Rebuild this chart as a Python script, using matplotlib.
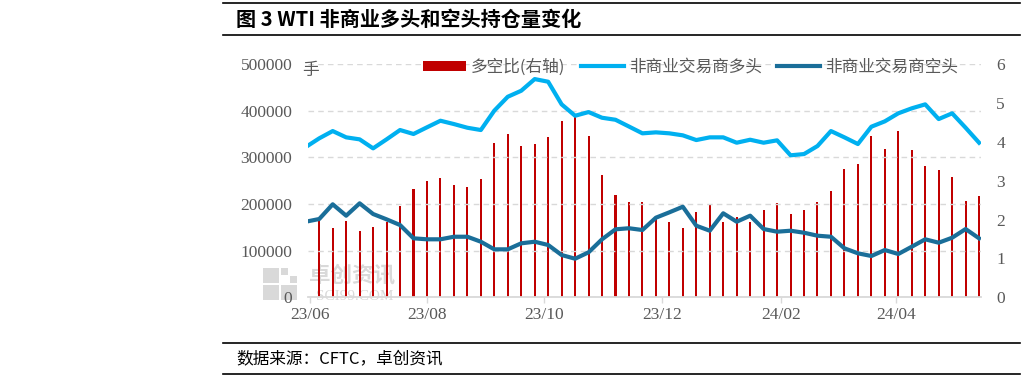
import matplotlib
matplotlib.use("Agg")
import matplotlib.pyplot as plt
import matplotlib.dates as mdates
from matplotlib.patches import Patch, Rectangle
from matplotlib.lines import Line2D
import pandas as pd

# ---------------- data ----------------
dates = pd.date_range("2023-05-30", periods=51, freq="7D")

long_pos = [322000, 340700, 356300, 342800, 338500, 319200, 338500, 358500, 350000, 364300,
            378400, 371300, 363400, 358500, 400000, 429800, 442700, 467700, 462000, 413500,
            389100, 397000, 384800, 380500, 366000, 351400, 353500, 351400, 347100, 337000,
            342800, 342800, 331300, 337700, 331300, 336400, 304300, 307000, 324200, 356300,
            342800, 328500, 365600, 377100, 394300, 405000, 413500, 382000, 394300, 363400,
            331300]

short_pos = [162000, 167800, 199300, 174900, 201400, 178500, 167100, 154900, 126400, 124300,
             124300, 129800, 129800, 119100, 102800, 102800, 115700, 119100, 112100, 90600,
             82700, 96400, 124300, 145700, 148000, 144200, 170600, 182100, 194100, 153400,
             142700, 180000, 162000, 174900, 146300, 140600, 142700, 138400, 132000, 129800,
             105000, 94300, 88500, 101300, 92800, 108400, 124300, 117000, 127700, 146300,
             126400]

ratio = [1.99, 2.03, 1.79, 1.96, 1.70, 1.81, 1.94, 2.35, 2.78, 2.99,
         3.08, 2.89, 2.84, 3.04, 3.97, 4.20, 3.89, 3.94, 4.11, 4.53,
         4.64, 4.15, 3.14, 2.63, 2.44, 2.44, 2.03, 1.94, 1.79, 2.20,
         2.41, 1.94, 2.06, 1.94, 2.24, 2.43, 2.15, 2.24, 2.45, 2.74,
         3.30, 3.44, 4.15, 3.81, 4.27, 3.79, 3.38, 3.27, 3.10, 2.48,
         2.60]

tick_dates = ["2023-06-01", "2023-08-01", "2023-10-01", "2023-12-01", "2024-02-01", "2024-04-01"]
left_ticks = [0, 100000, 200000, 300000, 400000, 500000]
right_ticks = [0, 1, 2, 3, 4, 5, 6]

title = "图 3 WTI 非商业多头和空头持仓量变化"
source = "数据来源：CFTC，卓创资讯"
labels = ["多空比(右轴)", "非商业交易商多头", "非商业交易商空头"]

# ---------------- style ----------------
C_RED = "#C00000"
C_LONG = "#00B0F0"
C_SHORT = "#1A6E99"
C_GRAY = "#595959"
C_GRID = "#D9D9D9"
CJK = ["Noto Sans CJK SC", "DejaVu Sans"]
SERIF = ["Liberation Serif", "Noto Sans CJK SC"]

plt.rcParams["font.family"] = SERIF

W, H = 1025, 381
fig = plt.figure(figsize=(W / 100, H / 100), dpi=100)

def fx(px):
    return px / W

def fy(py):
    return 1 - py / H

ax_left, ax_right, ax_top, ax_bot = 307.7, 981.0, 64.0, 297.3
ax = fig.add_axes([fx(ax_left), fy(ax_bot), fx(ax_right - ax_left), (ax_bot - ax_top) / H])
ax2 = ax.twinx()
ax.set_zorder(2)
ax2.set_zorder(1)
ax.patch.set_visible(False)
ax2.patch.set_visible(False)

# bars (right axis)
ax2.bar(dates, ratio, width=1.05, color=C_RED, zorder=2)
ax2.set_ylim(0, 6)
ax2.set_yticks(right_ticks)

# lines (left axis)
ax.plot(dates, long_pos, color=C_LONG, lw=3.0, solid_joinstyle="round", zorder=3)
ax.plot(dates, short_pos, color=C_SHORT, lw=3.0, solid_joinstyle="round", zorder=3)
ax.set_ylim(0, 500000)
ax.set_yticks(left_ticks)
ax.yaxis.set_major_formatter(matplotlib.ticker.FuncFormatter(lambda v, p: f"{int(v)}"))
ax.grid(axis="y", color=C_GRID, lw=1.0, ls=(0, (4, 3)))
ax.set_axisbelow(False)

ax.set_xlim(pd.Timestamp("2023-05-31"), pd.Timestamp("2024-05-15"))
ax.set_xticks([pd.Timestamp(d) for d in tick_dates])
ax.xaxis.set_major_formatter(mdates.DateFormatter("%y/%m"))

for a in (ax, ax2):
    for s in ("top", "left", "right", "bottom"):
        a.spines[s].set_visible(False)
ax.spines["bottom"].set_visible(True)
ax.spines["bottom"].set_color(C_GRID)
ax.spines["bottom"].set_linewidth(1.3)

ax.tick_params(axis="x", direction="out", length=4, width=1, color=C_GRID,
               labelsize=12.5, labelcolor=C_GRAY, pad=3)
ax.tick_params(axis="y", length=0, labelsize=12.5, labelcolor=C_GRAY, pad=11)
ax2.tick_params(axis="y", length=0, labelsize=12.5, labelcolor=C_GRAY, pad=11)

# unit label
fig.text(fx(310), fy(70), "手", family=CJK, fontsize=12, color=C_GRAY, ha="center", va="center")

# legend
handles = [Patch(facecolor=C_RED, edgecolor="none"),
           Line2D([], [], color=C_LONG, lw=3.0),
           Line2D([], [], color=C_SHORT, lw=3.0)]
fig.legend(handles, labels, loc="center", bbox_to_anchor=(fx(690.5), fy(67)), ncol=3,
           frameon=False, prop={"family": CJK, "size": 12}, labelcolor=C_GRAY,
           handlelength=2.6, handleheight=0.55, handletextpad=0.3, columnspacing=0.9,
           borderpad=0, borderaxespad=0)

# watermark
wm = "#D9D9D9"
for (x0, y0, w, h) in [(263, 268, 16, 15), (263, 285, 16, 15), (281, 285, 16, 15),
                       (281, 268, 7, 7), (290, 276, 7, 7)]:
    fig.patches.append(Rectangle((fx(x0), fy(y0 + h)), fx(w), h / H, transform=fig.transFigure,
                                 facecolor=wm, edgecolor="none", zorder=0.5))
fig.text(fx(352), fy(275), "卓创资讯", family=CJK, fontsize=15.5, color=wm, ha="center",
         va="center", fontweight="bold", zorder=0.5)
fig.text(fx(355), fy(296), "SCI99.COM", family=["Liberation Serif"], fontsize=11, color=wm,
         ha="center", va="center", zorder=0.5)

# title & source with rules
for yy in (3.3, 35, 343.3, 374.3):
    fig.add_artist(Line2D([fx(223), fx(1020)], [fy(yy), fy(yy)], color="black", lw=1.2,
                          transform=fig.transFigure))
fig.text(fx(236), fy(19.5), title, family=CJK, fontsize=14.5, fontweight="bold",
         color="black", ha="left", va="center")
fig.text(fx(236.7), fy(359), source, family=CJK, fontsize=12, color="black",
         ha="left", va="center")

fig.savefig("out.png", dpi=100)
